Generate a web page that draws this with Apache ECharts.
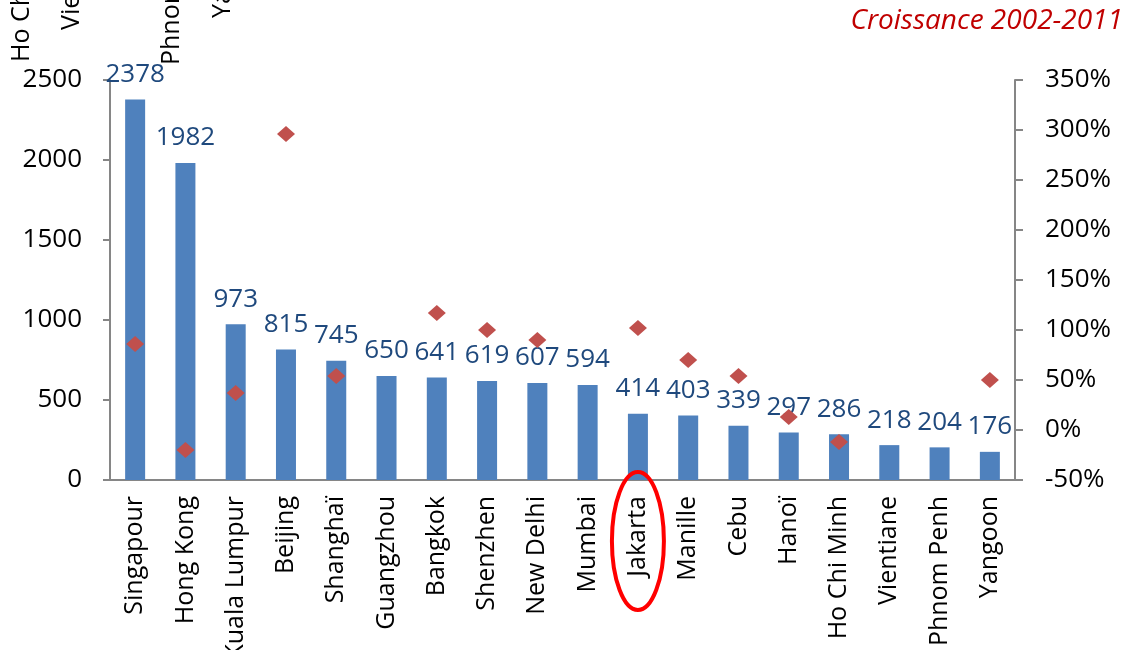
<!DOCTYPE html>
<html>
<head>
    <meta charset="utf-8">
    <title>Croissance 2002-2011</title>
    <script src="https://cdn.jsdelivr.net/npm/echarts@6/dist/echarts.min.js"></script>
</head>
<body style="margin:0">
<div id="main" style="width:1132px;height:650px;"></div>
<script type="text/javascript">
    var cities = ['Singapour', 'Hong Kong', 'Kuala Lumpur', 'Beijing', 'Shanghaï', 'Guangzhou', 'Bangkok',
        'Shenzhen', 'New Delhi', 'Mumbai', 'Jakarta', 'Manille', 'Cebu', 'Hanoï', 'Ho Chi Minh',
        'Vientiane', 'Phnom Penh', 'Yangoon'];
    var values = [2378, 1982, 973, 815, 745, 650, 641, 619, 607, 594, 414, 403, 339, 297, 286, 218, 204, 176];
    // croissance en %, '-' quand pas de point
    var growth = [86, -20, 37, 296, 54, '-', 117, 100, 90, '-', 102, 70, 54, 13, -12, '-', '-', 50];
    var leftTicks = [0, 500, 1000, 1500, 2000, 2500];
    var rightTicks = [-50, 0, 50, 100, 150, 200, 250, 300, 350];
    var titleText = 'Croissance 2002-2011';
    var highlighted = 'Jakarta';
    // restes d'étiquettes coupées en haut à gauche
    var strayLabels = ['Ho Chi Minh', 'Vientiane', 'Phnom Penh', 'Yangoon'];

    var myChart = echarts.init(document.getElementById('main'));

    var axisColor = '#868686';
    var font = '"Open Sans", sans-serif';

    var strayPos = [[22, 62], [72, 30], [172, 65], [223, 18]];

    var option = {
        backgroundColor: '#ffffff',
        animation: false,
        title: {
            text: titleText,
            right: 4,
            top: 2,
            textStyle: {
                color: '#C00000',
                fontStyle: 'italic',
                fontWeight: 'normal',
                fontSize: 28,
                fontFamily: font
            }
        },
        grid: {
            left: 110,
            right: 117,
            top: 80,
            bottom: 170,
            outerBoundsMode: 'none'
        },
        xAxis: {
            type: 'category',
            data: cities,
            axisLine: { lineStyle: { color: axisColor, width: 2 } },
            axisTick: { length: 8, lineStyle: { color: axisColor, width: 2 } },
            axisLabel: {
                rotate: 90,
                interval: 0,
                margin: 16,
                color: '#000',
                fontSize: 25,
                fontFamily: font
            }
        },
        yAxis: [{
            type: 'value',
            min: leftTicks[0],
            max: leftTicks[leftTicks.length - 1],
            interval: 500,
            splitLine: { show: false },
            axisLine: { show: true, lineStyle: { color: axisColor, width: 2 } },
            axisTick: { show: true, length: 7, lineStyle: { color: axisColor, width: 2 } },
            axisLabel: {
                margin: 28,
                color: '#000',
                fontSize: 26,
                fontFamily: font,
                formatter: function (v) { return String(v); }
            }
        }, {
            type: 'value',
            min: rightTicks[0],
            max: rightTicks[rightTicks.length - 1],
            interval: 50,
            position: 'right',
            splitLine: { show: false },
            axisLine: { show: true, lineStyle: { color: axisColor, width: 2 } },
            axisTick: { show: true, length: 8, lineStyle: { color: axisColor, width: 2 } },
            axisLabel: {
                margin: 30,
                color: '#000',
                fontSize: 26,
                fontFamily: font,
                formatter: '{value}%'
            }
        }],
        series: [{
            name: 'Valeur',
            type: 'bar',
            data: values,
            barWidth: 20,
            itemStyle: { color: '#4F81BD' },
            label: {
                show: true,
                position: 'top',
                distance: 12,
                color: '#1F497D',
                fontSize: 26,
                fontFamily: font
            }
        }, {
            name: 'Croissance',
            type: 'scatter',
            yAxisIndex: 1,
            data: growth,
            symbol: 'diamond',
            symbolSize: [18, 16],
            itemStyle: { color: '#C0504D', opacity: 1 },
            z: 5
        }]
    };

    myChart.setOption(option);

    // ellipse rouge autour de Jakarta + étiquettes coupées
    var jx = myChart.convertToPixel({ xAxisIndex: 0 }, highlighted);
    var graphics = [{
        type: 'ellipse',
        shape: { cx: jx, cy: 541, rx: 26, ry: 69 },
        style: { fill: 'none', stroke: '#FF0000', lineWidth: 4 },
        z: 10
    }];
    strayLabels.forEach(function (t, i) {
        graphics.push({
            type: 'text',
            x: strayPos[i][0],
            y: strayPos[i][1],
            rotation: Math.PI / 2,
            style: {
                text: t,
                fill: '#000',
                font: '25px "Open Sans", sans-serif',
                textAlign: 'left',
                textVerticalAlign: 'middle'
            }
        });
    });
    myChart.setOption({ graphic: graphics });
</script>
</body>
</html>
